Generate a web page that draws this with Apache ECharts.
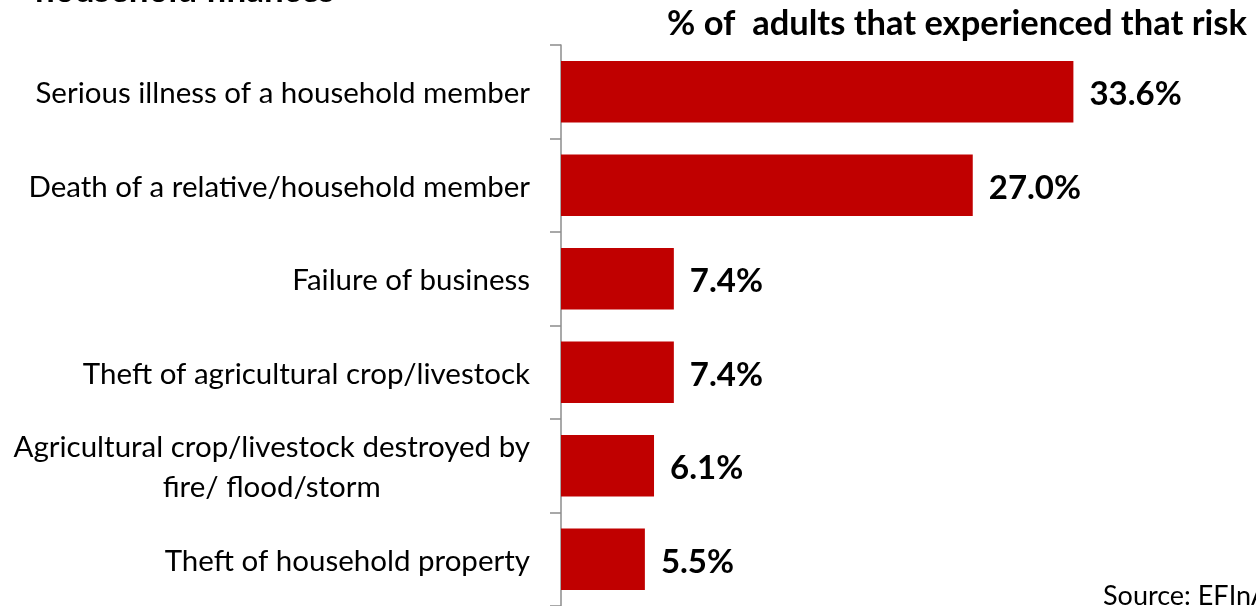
<!DOCTYPE html>
<html>
<head>
<meta charset="utf-8">
<script src="https://cdn.jsdelivr.net/npm/echarts@6/dist/echarts.min.js"></script>
<style>
  html, body { margin: 0; padding: 0; background: #fff; }
  #chart { width: 1256px; height: 606px; }
</style>
</head>
<body>
<div id="chart"></div>
<script>
// Risks experienced by adults, share of adults (%)
const categories = [
  'Serious illness of a household member',
  'Death of a relative/household member',
  'Failure of business',
  'Theft of agricultural crop/livestock',
  'Agricultural crop/livestock destroyed by\nfire/ flood/storm',
  'Theft of household property'
];
const values = [33.6, 27.0, 7.4, 7.4, 6.1, 5.5];

const titleText = 'household finances';
const subtitleText = '% of  adults that experienced that risk';
const sourceText = 'Source: EFInA';

const FONT = 'Lato, "Open Sans", "Noto Sans", sans-serif';

const chart = echarts.init(document.getElementById('chart'), null, { renderer: 'canvas' });

chart.setOption({
  animation: false,
  backgroundColor: '#ffffff',
  grid: { left: 561, top: 45, width: 610, height: 564, containLabel: false },
  xAxis: {
    type: 'value',
    min: 0,
    max: 40,
    show: false
  },
  yAxis: {
    type: 'category',
    inverse: true,
    data: categories,
    axisLine: { show: true, lineStyle: { color: '#8c8c8c', width: 1.5 } },
    axisTick: { show: true, length: 11, lineStyle: { color: '#8c8c8c', width: 1.5 } },
    axisLabel: {
      margin: 31,
      align: 'right',
      color: '#000',
      fontFamily: FONT,
      fontSize: 29.5,
      lineHeight: 40,
      formatter: (v) => '{c|' + v + '}',
      rich: {
        c: { align: 'center', fontFamily: FONT, fontSize: 29.5, lineHeight: 40, color: '#000', padding: [4, 0, 0, 0] }
      }
    }
  },
  series: [{
    type: 'bar',
    data: values,
    barCategoryGap: '34%',
    itemStyle: { color: '#c00000' },
    label: {
      show: true,
      position: 'right',
      distance: 16,
      offset: [0, 3],
      color: '#000',
      fontFamily: FONT,
      fontWeight: 'bold',
      fontSize: 33,
      formatter: (p) => p.value.toFixed(1) + '%'
    }
  }],
  graphic: [
    {
      type: 'text',
      left: 35,
      top: -27,
      style: { text: titleText, fontFamily: FONT, fontWeight: 'bold', fontSize: 35, fill: '#000' }
    },
    {
      type: 'text',
      left: 667,
      top: 6,
      style: { text: subtitleText, fontFamily: FONT, fontWeight: 'bold', fontSize: 34.5, fill: '#000' }
    },
    {
      type: 'text',
      left: 1103,
      top: 583,
      style: { text: sourceText, fontFamily: FONT, fontSize: 27, fill: '#000' }
    }
  ]
});
</script>
</body>
</html>
